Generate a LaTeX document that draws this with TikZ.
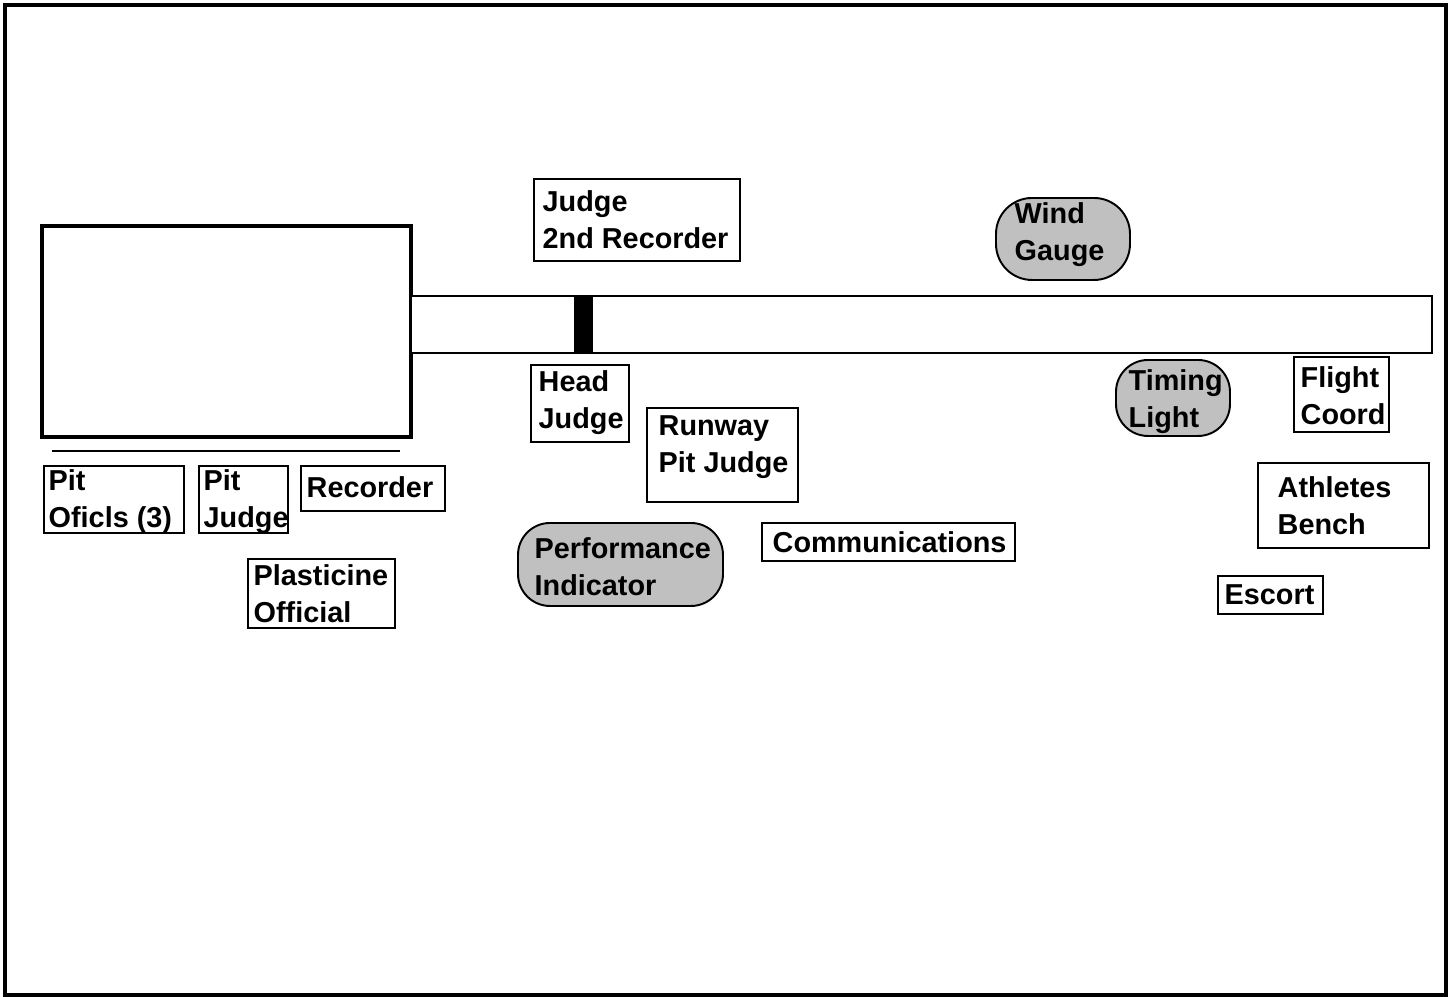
\documentclass[tikz,border=0pt]{standalone}
\usepackage{fontspec}
\setmainfont{Liberation Sans}
\usepackage{tikz}
\pgfdeclarelayer{nodelayer}
\pgfdeclarelayer{edgelayer}
\pgfsetlayers{edgelayer,nodelayer,main}
\definecolor{marker grey}{RGB}{192,192,192}
\tikzstyle{post box}=[draw=black, fill=white, shape=rectangle, line width=0.55pt, inner sep=0pt]
\tikzstyle{round box}=[draw=black, fill=marker grey, shape=rectangle, rounded corners=0.32cm, line width=0.55pt, inner sep=0pt]
\tikzstyle{pit box}=[draw=black, fill=white, shape=rectangle, line width=1.2pt, inner sep=0pt]
\tikzstyle{board}=[draw=black, fill=black, shape=rectangle, inner sep=0pt]
\tikzstyle{tag}=[anchor=west, inner sep=0pt, align=left, font=\bfseries\fontsize{8.2}{10.6}\selectfont]
\tikzstyle{none}=[fill=none, draw=none, shape=circle, scale=0]
\tikzstyle{plain edge}=[draw=black, line width=0.55pt]

\begin{document}
\begin{tikzpicture}
	\useasboundingbox (0, 0) rectangle (14.48, 9.97);
	\draw [line width=1.1pt] (0.05, 9.92) rectangle (14.46, 0.02);
	\begin{pgfonlayer}{nodelayer}
		% pit and runway
		\node [style=pit box, minimum width=3.69cm, minimum height=2.11cm] (pit) at (2.265, 6.655) {};
		\node [style=post box, minimum width=10.21cm, minimum height=0.57cm] (runway) at (9.215, 6.725) {};
		\node [style=board, minimum width=0.17cm, minimum height=0.57cm] (board) at (5.835, 6.725) {};
		\node [style=none] (l0) at (0.52, 5.46) {};
		\node [style=none] (l1) at (4.00, 5.46) {};
		% officials
		\node [style=post box, minimum width=2.06cm, minimum height=0.82cm] (jr) at (6.37, 7.77) {};
		\node [style=tag] (jr-t) at (5.42, 7.77) {Judge\\2nd Recorder};
		\node [style=round box, minimum width=1.34cm, minimum height=0.82cm, rounded corners=0.36cm] (wg) at (10.63, 7.58) {};
		\node [style=tag] (wg-t) at (10.14, 7.62) {Wind\\Gauge};
		\node [style=post box, minimum width=0.98cm, minimum height=0.77cm] (hj) at (5.80, 5.935) {};
		\node [style=tag] (hj-t) at (5.38, 5.94) {Head\\Judge};
		\node [style=post box, minimum width=1.51cm, minimum height=0.94cm] (rpj) at (7.225, 5.42) {};
		\node [style=tag] (rpj-t) at (6.58, 5.50) {Runway\\Pit Judge};
		\node [style=round box, minimum width=2.05cm, minimum height=0.83cm] (pi) at (6.205, 4.325) {};
		\node [style=tag] (pi-t) at (5.34, 4.30) {Performance\\Indicator};
		\node [style=post box, minimum width=2.53cm, minimum height=0.38cm] (com) at (8.885, 4.55) {};
		\node [style=tag] (com-t) at (7.72, 4.55) {Communications};
		\node [style=round box, minimum width=1.14cm, minimum height=0.76cm] (tl) at (11.73, 5.99) {};
		\node [style=tag] (tl-t) at (11.28, 5.955) {Timing\\Light};
		\node [style=post box, minimum width=0.95cm, minimum height=0.75cm] (fc) at (13.415, 6.025) {};
		\node [style=tag] (fc-t) at (13.00, 6.01) {Flight\\Coord};
		\node [style=post box, minimum width=1.71cm, minimum height=0.85cm] (ab) at (13.435, 4.915) {};
		\node [style=tag] (ab-t) at (12.77, 4.91) {Athletes\\Bench};
		\node [style=post box, minimum width=1.05cm, minimum height=0.38cm] (esc) at (12.705, 4.02) {};
		\node [style=tag] (esc-t) at (12.24, 4.02) {Escort};
		\node [style=post box, minimum width=1.40cm, minimum height=0.67cm] (po) at (1.14, 4.975) {};
		\node [style=tag] (po-t) at (0.48, 4.955) {Pit\\Oficls (3)};
		\node [style=post box, minimum width=0.89cm, minimum height=0.67cm] (pj) at (2.435, 4.975) {};
		\node [style=tag] (pj-t) at (2.03, 4.955) {Pit\\Judge};
		\node [style=post box, minimum width=1.44cm, minimum height=0.45cm] (rec) at (3.73, 5.085) {};
		\node [style=tag] (rec-t) at (3.06, 5.10) {Recorder};
		\node [style=post box, minimum width=1.47cm, minimum height=0.69cm] (pl) at (3.215, 4.035) {};
		\node [style=tag] (pl-t) at (2.53, 4.03) {Plasticine\\Official};
	\end{pgfonlayer}
	\begin{pgfonlayer}{edgelayer}
		\draw [style=plain edge] (l0.center) to (l1.center);
	\end{pgfonlayer}
\end{tikzpicture}
\end{document}
